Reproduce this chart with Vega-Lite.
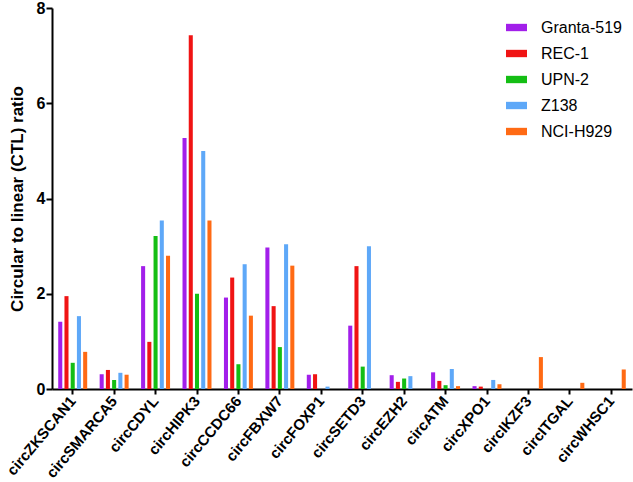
{
  "$schema": "https://vega.github.io/schema/vega-lite/v6.json",
  "autosize": "none",
  "width": 580,
  "height": 381,
  "padding": {"left": 52, "top": 8, "right": 1, "bottom": 93},
  "background": "white",
  "config": {
    "font": "Liberation Sans",
    "view": {"stroke": null}
  },
  "data": {
    "values": [
      {"gene": "circZKSCAN1", "line": "Granta-519", "v": 1.41},
      {"gene": "circZKSCAN1", "line": "REC-1", "v": 1.95},
      {"gene": "circZKSCAN1", "line": "UPN-2", "v": 0.55},
      {"gene": "circZKSCAN1", "line": "Z138", "v": 1.53},
      {"gene": "circZKSCAN1", "line": "NCI-H929", "v": 0.78},
      {"gene": "circSMARCA5", "line": "Granta-519", "v": 0.31},
      {"gene": "circSMARCA5", "line": "REC-1", "v": 0.40},
      {"gene": "circSMARCA5", "line": "UPN-2", "v": 0.19},
      {"gene": "circSMARCA5", "line": "Z138", "v": 0.34},
      {"gene": "circSMARCA5", "line": "NCI-H929", "v": 0.30},
      {"gene": "circCDYL", "line": "Granta-519", "v": 2.58},
      {"gene": "circCDYL", "line": "REC-1", "v": 0.99},
      {"gene": "circCDYL", "line": "UPN-2", "v": 3.21},
      {"gene": "circCDYL", "line": "Z138", "v": 3.54},
      {"gene": "circCDYL", "line": "NCI-H929", "v": 2.80},
      {"gene": "circHIPK3", "line": "Granta-519", "v": 5.27},
      {"gene": "circHIPK3", "line": "REC-1", "v": 7.43},
      {"gene": "circHIPK3", "line": "UPN-2", "v": 2.0},
      {"gene": "circHIPK3", "line": "Z138", "v": 5.0},
      {"gene": "circHIPK3", "line": "NCI-H929", "v": 3.54},
      {"gene": "circCCDC66", "line": "Granta-519", "v": 1.92},
      {"gene": "circCCDC66", "line": "REC-1", "v": 2.34},
      {"gene": "circCCDC66", "line": "UPN-2", "v": 0.52},
      {"gene": "circCCDC66", "line": "Z138", "v": 2.62},
      {"gene": "circCCDC66", "line": "NCI-H929", "v": 1.54},
      {"gene": "circFBXW7", "line": "Granta-519", "v": 2.97},
      {"gene": "circFBXW7", "line": "REC-1", "v": 1.74},
      {"gene": "circFBXW7", "line": "UPN-2", "v": 0.88},
      {"gene": "circFBXW7", "line": "Z138", "v": 3.04},
      {"gene": "circFBXW7", "line": "NCI-H929", "v": 2.59},
      {"gene": "circFOXP1", "line": "Granta-519", "v": 0.30},
      {"gene": "circFOXP1", "line": "REC-1", "v": 0.31},
      {"gene": "circFOXP1", "line": "UPN-2", "v": 0},
      {"gene": "circFOXP1", "line": "Z138", "v": 0.05},
      {"gene": "circFOXP1", "line": "NCI-H929", "v": 0},
      {"gene": "circSETD3", "line": "Granta-519", "v": 1.33},
      {"gene": "circSETD3", "line": "REC-1", "v": 2.58},
      {"gene": "circSETD3", "line": "UPN-2", "v": 0.47},
      {"gene": "circSETD3", "line": "Z138", "v": 3.0},
      {"gene": "circSETD3", "line": "NCI-H929", "v": 0},
      {"gene": "circEZH2", "line": "Granta-519", "v": 0.29},
      {"gene": "circEZH2", "line": "REC-1", "v": 0.15},
      {"gene": "circEZH2", "line": "UPN-2", "v": 0.22},
      {"gene": "circEZH2", "line": "Z138", "v": 0.27},
      {"gene": "circEZH2", "line": "NCI-H929", "v": 0},
      {"gene": "circATM", "line": "Granta-519", "v": 0.35},
      {"gene": "circATM", "line": "REC-1", "v": 0.17},
      {"gene": "circATM", "line": "UPN-2", "v": 0.08},
      {"gene": "circATM", "line": "Z138", "v": 0.42},
      {"gene": "circATM", "line": "NCI-H929", "v": 0.06},
      {"gene": "circXPO1", "line": "Granta-519", "v": 0.06},
      {"gene": "circXPO1", "line": "REC-1", "v": 0.05},
      {"gene": "circXPO1", "line": "UPN-2", "v": 0},
      {"gene": "circXPO1", "line": "Z138", "v": 0.19},
      {"gene": "circXPO1", "line": "NCI-H929", "v": 0.10},
      {"gene": "circIKZF3", "line": "Granta-519", "v": 0},
      {"gene": "circIKZF3", "line": "REC-1", "v": 0},
      {"gene": "circIKZF3", "line": "UPN-2", "v": 0},
      {"gene": "circIKZF3", "line": "Z138", "v": 0},
      {"gene": "circIKZF3", "line": "NCI-H929", "v": 0.67},
      {"gene": "circITGAL", "line": "Granta-519", "v": 0},
      {"gene": "circITGAL", "line": "REC-1", "v": 0},
      {"gene": "circITGAL", "line": "UPN-2", "v": 0},
      {"gene": "circITGAL", "line": "Z138", "v": 0},
      {"gene": "circITGAL", "line": "NCI-H929", "v": 0.13},
      {"gene": "circWHSC1", "line": "Granta-519", "v": 0},
      {"gene": "circWHSC1", "line": "REC-1", "v": 0},
      {"gene": "circWHSC1", "line": "UPN-2", "v": 0},
      {"gene": "circWHSC1", "line": "Z138", "v": 0},
      {"gene": "circWHSC1", "line": "NCI-H929", "v": 0.41}
    ]
  },
  "mark": {"type": "bar"},
  "encoding": {
    "x": {
      "field": "gene",
      "type": "nominal",
      "sort": null,
      "scale": {"paddingInner": 0, "paddingOuter": 0},
      "axis": {
        "title": null,
        "labelAngle": -50,
        "labelFont": "Liberation Sans",
        "labelFontWeight": "bold",
        "labelFontSize": 15,
        "labelColor": "black",
        "labelPadding": 4,
        "domainColor": "black",
        "domainWidth": 2,
        "tickColor": "black",
        "tickWidth": 2,
        "tickSize": 5
      }
    },
    "xOffset": {
      "field": "line",
      "type": "nominal",
      "sort": ["Granta-519", "REC-1", "UPN-2", "Z138", "NCI-H929"],
      "scale": {"paddingInner": 0.35, "paddingOuter": 1.25}
    },
    "y": {
      "field": "v",
      "type": "quantitative",
      "scale": {"domain": [0, 8], "nice": false},
      "axis": {
        "title": "Circular to linear (CTL) ratio",
        "titleFont": "Liberation Sans",
        "titleFontSize": 17,
        "titleFontWeight": "bold",
        "titleColor": "black",
        "titlePadding": 10,
        "values": [0, 2, 4, 6, 8],
        "grid": false,
        "labelFont": "Liberation Sans",
        "labelFontWeight": "bold",
        "labelFontSize": 16,
        "labelColor": "black",
        "labelPadding": 1,
        "domainColor": "black",
        "domainWidth": 2,
        "tickColor": "black",
        "tickWidth": 2,
        "tickSize": 6
      }
    },
    "color": {
      "field": "line",
      "type": "nominal",
      "sort": ["Granta-519", "REC-1", "UPN-2", "Z138", "NCI-H929"],
      "scale": {
        "domain": ["Granta-519", "REC-1", "UPN-2", "Z138", "NCI-H929"],
        "range": ["#A21FEA", "#F01414", "#14BE14", "#5EA8F8", "#FF6A14"]
      },
      "legend": {
        "title": null,
        "orient": "none",
        "legendX": 454,
        "legendY": 9,
        "padding": 0,
        "symbolType": "M-1,-0.35H1V0.35H-1Z",
        "symbolSize": 441,
        "symbolStrokeWidth": 0,
        "symbolOpacity": 1,
        "labelFont": "Liberation Sans",
        "labelFontSize": 16,
        "labelColor": "black",
        "labelOffset": 14,
        "rowPadding": 7
      }
    }
  }
}
